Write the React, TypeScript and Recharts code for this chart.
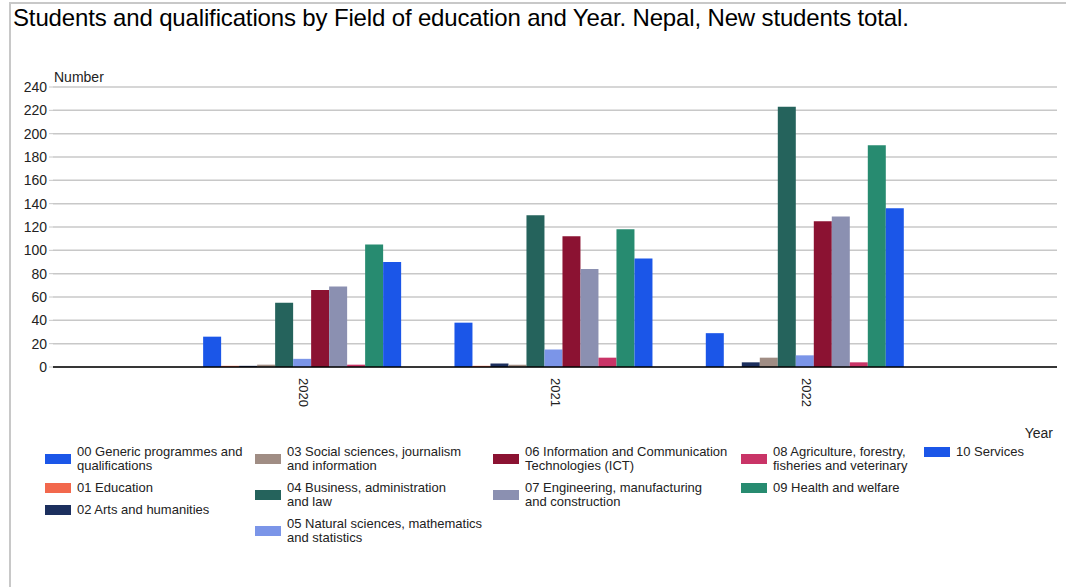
import React from 'react';
import { BarChart, Bar, XAxis, YAxis, CartesianGrid } from 'recharts';

const categories = ['2020', '2021', '2022'];
const generic = [26, 38, 29];
const education = [1, 1, 0];
const arts = [1, 3, 4];
const social = [2, 2, 8];
const business = [55, 130, 223];
const natural = [7, 15, 10];
const ict = [66, 112, 125];
const engineering = [69, 84, 129];
const agriculture = [2, 8, 4];
const health = [105, 118, 190];
const services = [90, 93, 136];

const yTicks = [0, 20, 40, 60, 80, 100, 120, 140, 160, 180, 200, 220, 240];

const seriesKeys = ['s00', 's01', 's02', 's03', 's04', 's05', 's06', 's07', 's08', 's09', 's10'];
const seriesValues = [generic, education, arts, social, business, natural, ict, engineering, agriculture, health, services];
const seriesLabels = [
  '00 Generic programmes and\nqualifications',
  '01 Education',
  '02 Arts and humanities',
  '03 Social sciences, journalism\nand information',
  '04 Business, administration\nand law',
  '05 Natural sciences, mathematics\nand statistics',
  '06 Information and Communication\nTechnologies (ICT)',
  '07 Engineering, manufacturing\nand construction',
  '08 Agriculture, forestry,\nfisheries and veterinary',
  '09 Health and welfare',
  '10 Services',
];
const seriesColors = [
  '#1b56e8', '#f2684d', '#1c2f5e', '#a08d84', '#25635c', '#7b95e8',
  '#8b1232', '#8b90b1', '#c93467', '#278b70', '#1b56e8',
];

const legendColumns = [[0, 1, 2], [3, 4, 5], [6, 7], [8, 9], [10]];
const legendColumnX = [45, 255, 493, 741, 924];

const data = categories.map((year, i) => {
  const row: Record<string, string | number> = { year };
  seriesKeys.forEach((k, j) => {
    row[k] = seriesValues[j][i];
  });
  return row;
});

const FONT = '"Liberation Sans", Arial, sans-serif';

const RotTick = (props: any) => {
  const { x, payload } = props;
  const y = 378;
  return (
    <text
      x={x}
      y={y}
      transform={`rotate(90, ${x}, ${y})`}
      textAnchor="start"
      dominantBaseline="central"
      fontSize={13}
      fontFamily={FONT}
      fill="#222"
    >
      {payload.value}
    </text>
  );
};

export default function App() {
  return (
    <div
      style={{
        position: 'absolute',
        left: 0,
        top: 0,
        width: 1066,
        height: 587,
        background: '#fff',
        overflow: 'hidden',
        fontFamily: FONT,
        color: '#222',
      }}
    >
      <div
        style={{
          position: 'absolute',
          left: 9,
          top: 2,
          width: 1100,
          height: 700,
          borderLeft: '2px solid #c8c8c8',
          borderTop: '2px solid #c8c8c8',
        }}
      />
      <div style={{ position: 'absolute', left: 0, top: 0 }}>
        <BarChart
          width={1066}
          height={587}
          data={data}
          margin={{ top: 87, right: 9, bottom: 190, left: 3 }}
          barCategoryGap="10%"
          barGap={0}
        >
          <CartesianGrid vertical={false} stroke="#c8c8c8" strokeWidth={1.5} />
          <XAxis
            dataKey="year"
            padding={{ left: 125, right: 125 }}
            height={30}
            axisLine={{ stroke: '#000', strokeWidth: 1.5 }}
            tickLine={false}
            interval={0}
            tick={(p: any) => <RotTick {...p} />}
          />
          <YAxis
            width={50}
            domain={[0, 240]}
            ticks={yTicks}
            interval={0}
            axisLine={false}
            tickLine={{ stroke: '#c8c8c8' }}
            tickSize={4}
            tickMargin={2}
            tick={{ fill: '#222', fontSize: 14, fontFamily: FONT }}
          />
          {seriesKeys.map((k, j) => (
            <Bar key={k} dataKey={k} fill={seriesColors[j]} isAnimationActive={false} />
          ))}
        </BarChart>
      </div>

      <div
        style={{
          position: 'absolute',
          left: 13,
          top: 6,
          fontSize: 24,
          lineHeight: '24px',
          color: '#000',
          whiteSpace: 'nowrap',
          letterSpacing: -0.15,
        }}
      >
        Students and qualifications by Field of education and Year. Nepal, New students total.
      </div>
      <div style={{ position: 'absolute', left: 54, top: 69, fontSize: 14, lineHeight: '16px' }}>Number</div>
      <div
        style={{
          position: 'absolute',
          right: 13,
          top: 425,
          fontSize: 14,
          lineHeight: '16px',
          textAlign: 'right',
        }}
      >
        Year
      </div>

      {legendColumns.map((col, ci) => (
        <div
          key={ci}
          style={{
            position: 'absolute',
            left: legendColumnX[ci],
            top: 445,
            display: 'flex',
            flexDirection: 'column',
            gap: 8,
          }}
        >
          {col.map((si) => (
            <div key={si} style={{ display: 'flex', alignItems: 'center' }}>
              <div style={{ width: 26, height: 10, background: seriesColors[si], flex: 'none' }} />
              <div
                style={{
                  marginLeft: 6,
                  fontSize: 13,
                  lineHeight: '14px',
                  whiteSpace: 'pre',
                  color: '#222',
                }}
              >
                {seriesLabels[si]}
              </div>
            </div>
          ))}
        </div>
      ))}
    </div>
  );
}
